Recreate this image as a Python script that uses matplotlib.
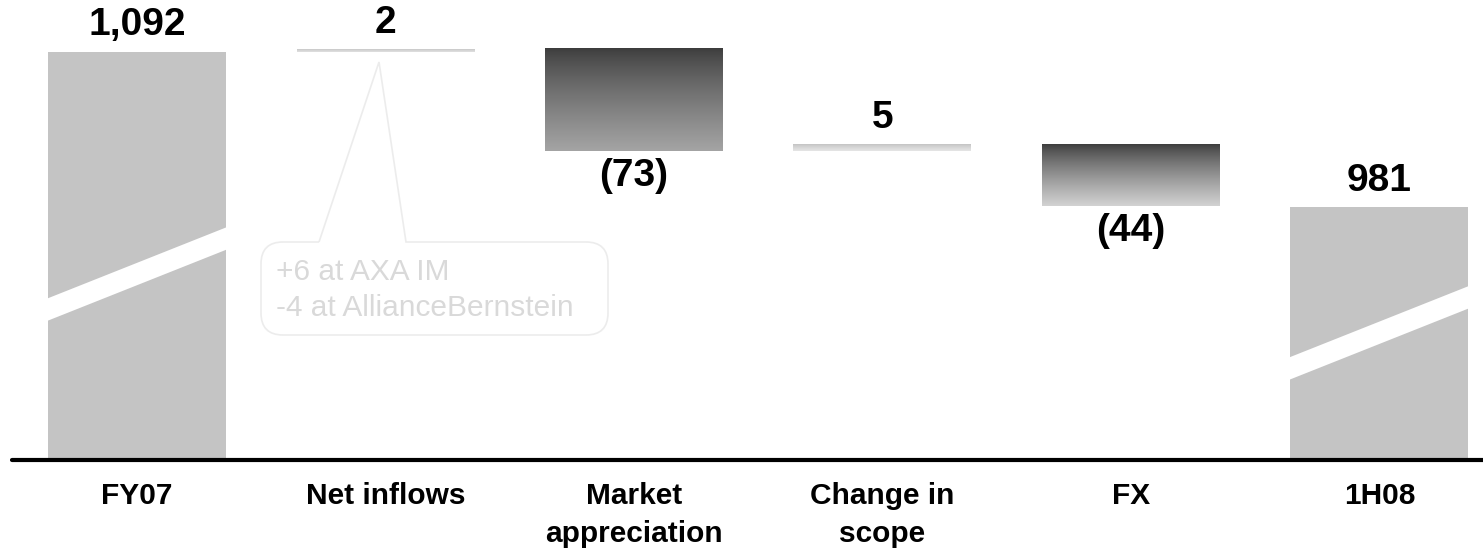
import matplotlib
matplotlib.use('Agg')
import numpy as np
import matplotlib.pyplot as plt
from matplotlib.colors import LinearSegmentedColormap
from matplotlib.patches import Polygon, PathPatch
from matplotlib.path import Path
import matplotlib.transforms as mtransforms

plt.rcParams['font.family'] = ['Liberation Sans', 'DejaVu Sans']

# data
categories = ['FY07', 'Net inflows', 'Market\nappreciation', 'Change in\nscope', 'FX', '1H08']
start_value = 1092
deltas = [2, -73, 5, -44]
end_value = 981
value_labels = ['1,092', '2', '(73)', '5', '(44)', '981']
callout_lines = ['+6 at AXA IM', '-4 at AllianceBernstein']

W, H = 1483, 553
fig = plt.figure(figsize=(W / 100, H / 100), dpi=100)
ax = fig.add_axes([12 / W, (H - 460) / H, 1 - 12 / W, 460 / H])
ymin, ymax = 800, 1129
ax.set_xlim(-0.503, 5.417)
ax.set_ylim(ymin, ymax)
bw = 0.716
grey = '#c4c4c4'


def grad_bar(x, lo, hi, c_top, c_bot):
    cmap = LinearSegmentedColormap.from_list('g', [c_top, c_bot])
    grad = np.linspace(0, 1, 256).reshape(-1, 1) ** 0.8
    ax.imshow(grad, cmap=cmap, aspect='auto', interpolation='bicubic',
              extent=[x - bw / 2, x + bw / 2, lo, hi], origin='upper', zorder=2)


# totals
ax.bar(0, start_value - ymin, bottom=ymin, width=bw, color=grey, zorder=2)
ax.bar(5, end_value - ymin, bottom=ymin, width=bw, color=grey, zorder=2)

# deltas
running = start_value
tops = [start_value]
bottoms = [ymin]
styles = [('#c4c4c4', '#e2e2e2'), ('#3c3c3c', '#a4a4a4'),
          ('#c2c2c2', '#e6e6e6'), ('#3c3c3c', '#d2d2d2')]
for i, d in enumerate(deltas):
    lo, hi = sorted([running, running + d])
    grad_bar(i + 1, lo, hi, *styles[i])
    tops.append(hi)
    bottoms.append(lo)
    running += d
tops.append(end_value)
bottoms.append(ymin)

# value labels
signs = [1] + [np.sign(d) for d in deltas] + [1]
for i, lab in enumerate(value_labels):
    if signs[i] > 0:
        ax.text(i, tops[i] + 6, lab, ha='center', va='bottom', fontsize=28,
                fontweight='bold', zorder=5)
    else:
        ax.text(i, bottoms[i] - 5, lab, ha='center', va='top', fontsize=28,
                fontweight='bold', zorder=5)

# axis break stripes
break_low = [899, 857]
for xi, yl in zip([0, 5], break_low):
    x0, x1 = xi - bw / 2 - 0.01, xi + bw / 2 + 0.01
    ax.add_patch(Polygon([(x0, yl), (x1, yl + 52), (x1, yl + 52 + 16), (x0, yl + 16)],
                         closed=True, facecolor='white', edgecolor='none', zorder=3))

# baseline
ax.axhline(ymin, color='black', lw=3, solid_capstyle='round', zorder=4, clip_on=False)

ax.set_xticks(range(len(categories)))
ax.set_xticklabels(categories, fontsize=21.5, fontweight='bold')
for t in ax.get_xticklabels():
    t.set_linespacing(1.45)
ax.tick_params(axis='x', length=0, pad=16)
ax.set_yticks([])
for s in ax.spines.values():
    s.set_visible(False)

# callout bubble (pixel coordinates, y down)
tr = mtransforms.Affine2D().scale(1, -1).translate(0, H)
bx0, bx1, by0, by1, r = 261, 608, 242, 335, 22
verts = [(319, by0), (379, 62), (406, by0),
         (bx1 - r, by0), (bx1, by0), (bx1, by0 + r),
         (bx1, by1 - r), (bx1, by1), (bx1 - r, by1),
         (bx0 + r, by1), (bx0, by1), (bx0, by1 - r),
         (bx0, by0 + r), (bx0, by0), (bx0 + r, by0),
         (319, by0)]
codes = [Path.MOVETO, Path.LINETO, Path.LINETO,
         Path.LINETO, Path.CURVE3, Path.CURVE3,
         Path.LINETO, Path.CURVE3, Path.CURVE3,
         Path.LINETO, Path.CURVE3, Path.CURVE3,
         Path.LINETO, Path.CURVE3, Path.CURVE3,
         Path.LINETO]
fig.add_artist(PathPatch(Path(verts, codes), transform=tr, facecolor='none',
                         edgecolor='#ececec', lw=1.2))
for k, line in enumerate(callout_lines):
    fig.text(276 / W, 1 - (272 + 36 * k) / H, line, fontsize=21.5, color='#d9d9d9',
             ha='left', va='center')

fig.savefig('out.png', dpi=100)
